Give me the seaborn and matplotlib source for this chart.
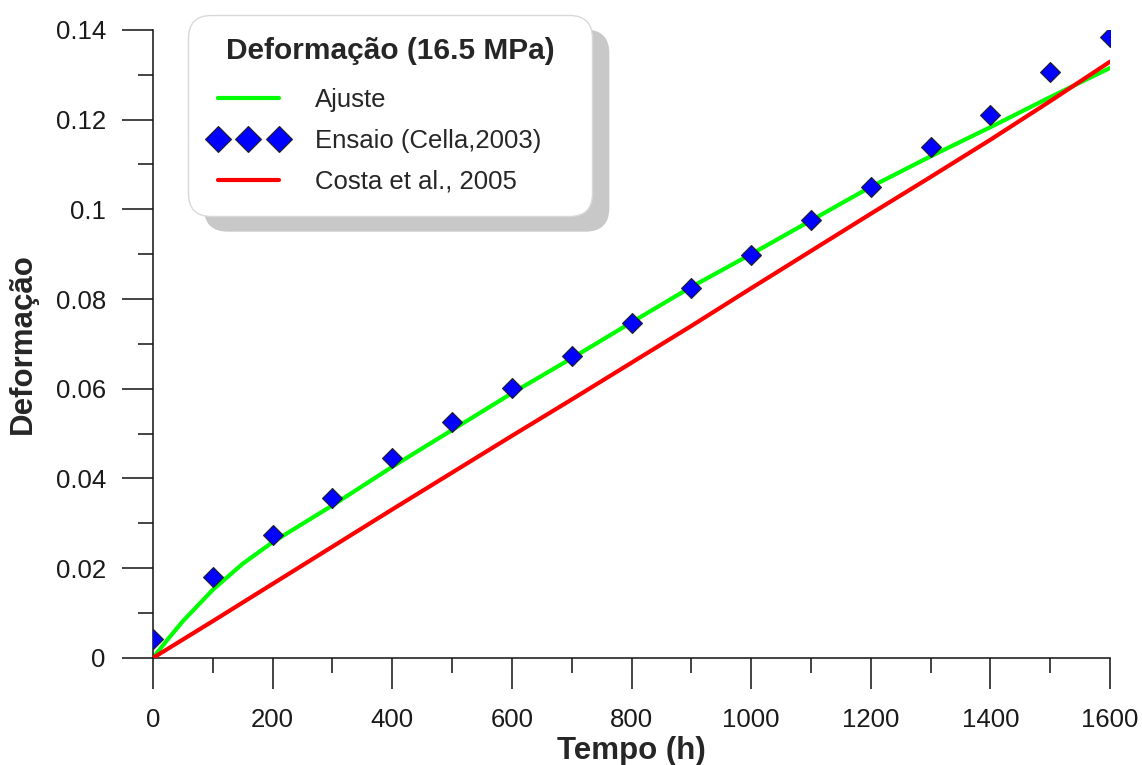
import numpy as np
import matplotlib
matplotlib.use('Agg')
import matplotlib.pyplot as plt
import seaborn as sns
from matplotlib.ticker import MultipleLocator

# tempo (h)
tempo = [0, 100, 200, 300, 400, 500, 600, 700, 800, 900, 1000,
         1100, 1200, 1300, 1400, 1500, 1600]
# ensaio (Cella, 2003)
ensaio = [0.0042, 0.0181, 0.0274, 0.0357, 0.0446, 0.0526, 0.0602, 0.0673, 0.0747,
          0.0825, 0.0898, 0.0976, 0.1050, 0.1139, 0.1210, 0.1306, 0.1384]
# ajuste (curva lida com mais pontos no inicio)
tempo_ajuste = [0, 25, 50, 100, 150, 200, 300, 400, 500, 600, 700, 800, 900, 1000,
                1100, 1200, 1300, 1400, 1500, 1600]
ajuste = [0.0, 0.0042, 0.0082, 0.0152, 0.0210, 0.0258, 0.0340, 0.0426, 0.0508, 0.0590,
          0.0668, 0.0748, 0.0827, 0.0900, 0.0975, 0.1050, 0.1118, 0.1183, 0.1250, 0.1315]
# Costa et al., 2005
costa = [0.0, 0.0082, 0.0165, 0.0248, 0.0331, 0.0413, 0.0495, 0.0576, 0.0658,
         0.0740, 0.0824, 0.0907, 0.0990, 0.1072, 0.1155, 0.1241, 0.1329]

sns.set_style('ticks')
plt.rcParams['font.family'] = ['Liberation Sans', 'DejaVu Sans']

fig = plt.figure(figsize=(11.42, 7.65), dpi=100)
ax = fig.add_axes([0.134, 0.14, 0.838, 0.821])

sns.lineplot(x=tempo_ajuste, y=ajuste, color='#00ff00', lw=3, label='Ajuste', ax=ax, zorder=2)
sns.lineplot(x=tempo, y=ensaio, color='#0000ff', marker='D', markersize=10.2,
             markeredgecolor='#222222', markeredgewidth=0.8, linestyle='',
             label='Ensaio (Cella,2003)', ax=ax, zorder=4)
sns.lineplot(x=tempo, y=costa, color='#ff0000', lw=3, label='Costa et al., 2005', ax=ax, zorder=3)

ax.set_xlim(0, 1600)
ax.set_ylim(0, 0.14)
ax.xaxis.set_major_locator(MultipleLocator(200))
ax.xaxis.set_minor_locator(MultipleLocator(100))
ax.yaxis.set_minor_locator(MultipleLocator(0.01))
ax.set_yticks(np.arange(0, 0.141, 0.02))
ax.set_yticklabels(['0', '0.02', '0.04', '0.06', '0.08', '0.1', '0.12', '0.14'])

for s in ['top', 'right']:
    ax.spines[s].set_visible(False)
for s in ['left', 'bottom']:
    ax.spines[s].set_color('#111111')
    ax.spines[s].set_linewidth(1.1)
ax.tick_params(which='major', length=22, width=1.1, color='#111111',
               labelsize=18.5, labelcolor='#1a1a1a', pad=12)
ax.tick_params(axis='x', which='major', pad=14)
ax.tick_params(which='minor', length=11, width=1.1, color='#111111')

ax.set_xlabel('Tempo (h)', fontsize=22.5, fontweight='bold', labelpad=3)
ax.set_ylabel('Deformação', fontsize=22.5, fontweight='bold', labelpad=13)

# caixa da legenda: 188..592 px em x, topo em 15 px
leg = ax.legend(loc='upper left', bbox_to_anchor=(188 / 1142, 552 / 765, 404 / 1142, 198 / 765),
                bbox_transform=fig.transFigure, mode='expand',
                borderaxespad=0, numpoints=3, markerscale=1.3, fontsize=18.5,
                title='Deformação (16.5 MPa)',
                title_fontproperties={'weight': 'bold', 'size': 21.5},
                fancybox=True, frameon=True, handlelength=3.0, handletextpad=1.1,
                labelspacing=0.65, borderpad=0.85, framealpha=1,
                shadow={'ox': 12, 'oy': -11, 'color': '#c8c8c8', 'alpha': 1})
leg.get_frame().set_edgecolor('#d8d8d8')
leg.get_frame().set_linewidth(1.0)
leg.get_frame().set_boxstyle('round', pad=0, rounding_size=0.9)
leg._legend_box.sep = 17

fig.savefig('out.png', dpi=100)
